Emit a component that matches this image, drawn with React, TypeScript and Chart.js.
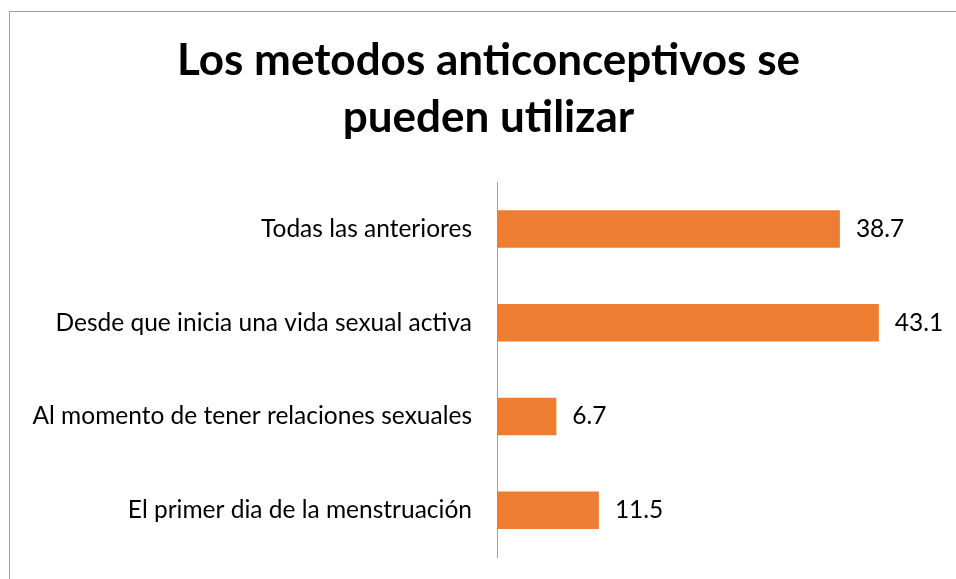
import React, { useEffect, useRef } from "react";
import { Chart, registerables } from "chart.js";

Chart.register(...registerables);

const categories: string[] = [
  "Todas las anteriores",
  "Desde que inicia una vida sexual activa",
  "Al momento de tener relaciones sexuales",
  "El primer dia de la menstruación",
];
const values: number[] = [38.7, 43.1, 6.7, 11.5];
const titleLines: string[] = ["Los metodos anticonceptivos se", "pueden utilizar"];
const axisMin = 0;
const axisMax = 50;

const FONT = "Lato, 'Open Sans', sans-serif";
const BAR_COLOR = "#ED7D31";
const GRAY = "#A0A0A0";
const LABEL_SIZE = 24.5;
const TITLE_SHIFT = 37;

const framePlugin = {
  id: "frame",
  beforeDraw(chart: any) {
    const ctx = chart.ctx;
    ctx.save();
    ctx.fillStyle = "#ffffff";
    ctx.fillRect(0, 0, chart.width, chart.height);
    ctx.strokeStyle = GRAY;
    ctx.lineWidth = 1;
    ctx.strokeRect(9.5, 11.5, chart.width + 40, chart.height + 40);
    ctx.restore();
  },
};

const titleShiftPlugin = {
  id: "titleShift",
  afterLayout(chart: any) {
    if (chart.titleBlock) {
      chart.titleBlock.left = chart.titleBlock.left + TITLE_SHIFT;
    }
  },
};

const valueLabelPlugin = {
  id: "valueLabels",
  afterDatasetsDraw(chart: any) {
    const ctx = chart.ctx;
    const meta = chart.getDatasetMeta(0);
    const data = chart.data.datasets[0].data as number[];
    ctx.save();
    ctx.font = `${LABEL_SIZE}px ${FONT}`;
    ctx.fillStyle = "#000000";
    ctx.textAlign = "left";
    ctx.textBaseline = "middle";
    meta.data.forEach((bar: any, i: number) => {
      ctx.fillText(data[i].toFixed(1), bar.x + 16, bar.y);
    });
    ctx.restore();
  },
};

export default function App() {
  const canvasRef = useRef<HTMLCanvasElement | null>(null);

  useEffect(() => {
    if (!canvasRef.current) return;
    const chart = new Chart(canvasRef.current, {
      type: "bar",
      data: {
        labels: categories,
        datasets: [
          {
            data: values,
            backgroundColor: BAR_COLOR,
            borderWidth: 0,
            categoryPercentage: 0.4,
            barPercentage: 1,
          },
        ],
      },
      options: {
        indexAxis: "y",
        responsive: false,
        animation: false,
        layout: { padding: { top: 0, bottom: 22, left: 0, right: 16 } },
        plugins: {
          legend: { display: false },
          tooltip: { enabled: false },
          title: {
            display: true,
            text: titleLines,
            color: "#000000",
            font: { family: FONT, size: 44, weight: "bold", lineHeight: 1.28 },
            padding: { top: 33, bottom: 36.5 },
          },
        },
        scales: {
          x: {
            display: false,
            min: axisMin,
            max: axisMax,
          },
          y: {
            grid: { display: false, drawTicks: false },
            border: { display: true, color: GRAY, width: 1 },
            ticks: {
              color: "#000000",
              padding: 25,
              font: { family: FONT, size: LABEL_SIZE },
            },
            afterFit(scale: any) {
              scale.width = 497;
              scale.paddingTop = 0;
              scale.paddingBottom = 0;
            },
          },
        },
      },
      plugins: [framePlugin, titleShiftPlugin, valueLabelPlugin],
    });
    return () => chart.destroy();
  }, []);

  return (
    <div style={{ position: "absolute", left: 0, top: 0, width: 956, height: 579, overflow: "hidden" }}>
      <canvas ref={canvasRef} width={956} height={579} style={{ display: "block" }} />
    </div>
  );
}
